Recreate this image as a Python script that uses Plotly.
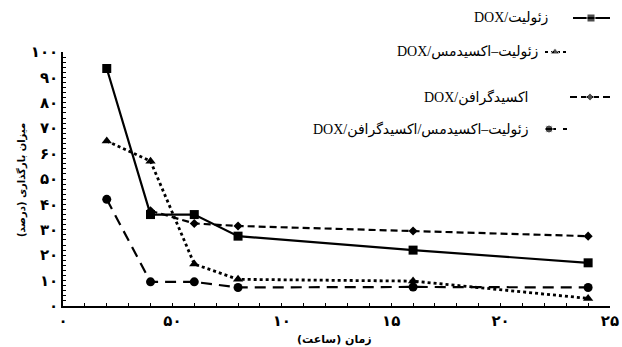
import plotly.graph_objects as go

# Loading (%) over time (h) for four DOX carriers
hours = [2, 4, 6, 8, 16, 24]
zeolite_dox = [93.5, 36, 36, 27.5, 22, 17]
zeolite_cuo_dox = [65, 57, 16.5, 10.5, 9.8, 3]
go_hours = [4, 6, 8, 16, 24]
go_dox = [37.5, 32.5, 31.5, 29.5, 27.5]
zeolite_cuo_go_dox = [42, 9.5, 9.5, 7.3, 7.5, 7.3]

series_names = [
    "DOX/زئولیت",
    "DOX/زئولیت–اکسیدمس",
    "DOX/اکسیدگرافن",
    "DOX/زئولیت–اکسیدمس/اکسیدگرافن",
]

x_ticks = [0, 5, 10, 15, 20, 25]
x_ticktext = ["۰", "۵۰", "۱۰", "۱۵", "۲۰", "۲۵"]
y_ticks = [0, 10, 20, 30, 40, 50, 60, 70, 80, 90, 100]
y_ticktext = ["۰", "۱۰", "۲۰", "۳۰", "۴۰", "۵۰", "۶۰", "۷۰", "۸۰", "۹۰", "۱۰۰"]

W, H = 622, 347
# plot box in pixels (left, right, top, bottom)
PL, PR, PT, PB = 63, 610, 52, 306


def fx(px):
    return px / W


def fy(py):
    return 1 - py / H


styles = [
    dict(dash="solid", symbol="square", size=9, width=2.2),
    dict(dash="dot", symbol="triangle-up", size=9, width=2.8),
    dict(dash="7px,4px", symbol="diamond", size=7, width=2.2),
    dict(dash="11px,7px", symbol="circle", size=9, width=2.2),
]

fig = go.Figure()
data = [
    (hours, zeolite_dox),
    (hours, zeolite_cuo_dox),
    (go_hours, go_dox),
    (hours, zeolite_cuo_go_dox),
]
for (xs, ys), st, name in zip(data, styles, series_names):
    fig.add_trace(go.Scatter(
        x=xs, y=ys, name=name, mode="lines+markers",
        line=dict(color="black", width=st["width"], dash=st["dash"]),
        marker=dict(symbol=st["symbol"], size=st["size"], color="black"),
        cliponaxis=False, showlegend=False,
    ))

# Hand-placed key: text on the left, line sample with marker on the right
key_rows = [
    dict(y=18, text_right=550, x0=573, x1=610, mx=591),
    dict(y=52, text_right=540, x0=545, x1=567, mx=555),
    dict(y=97, text_right=530, x0=570, x1=610, mx=590),
    dict(y=129, text_right=530, x0=545, x1=567, mx=549),
]
key_mx, key_my = [], []
for row, st, name in zip(key_rows, styles, series_names):
    fig.add_annotation(
        x=fx(row["text_right"]), y=fy(row["y"]), xref="paper", yref="paper",
        text=name, showarrow=False, xanchor="right", yanchor="middle",
        font=dict(family="Liberation Serif, DejaVu Sans", size=14, color="black"),
    )
    fig.add_shape(
        type="line", xref="paper", yref="paper", layer="below",
        x0=fx(row["x0"]), x1=fx(row["x1"]), y0=fy(row["y"]), y1=fy(row["y"]),
        line=dict(color="black", width=2, dash=st["dash"]),
    )
    key_mx.append(row["mx"])
    key_my.append(row["y"])

# key markers live on a full-figure pixel axis
fig.add_trace(go.Scatter(
    x=key_mx, y=key_my, mode="markers", xaxis="x2", yaxis="y2",
    marker=dict(symbol=[s["symbol"] for s in styles],
                size=[s["size"] - 1 for s in styles], color="black"),
    cliponaxis=False, showlegend=False, hoverinfo="skip",
))

fig.add_annotation(x=fx(334), y=fy(339), xref="paper", yref="paper",
                   text="زمان (ساعت)", showarrow=False,
                   font=dict(family="DejaVu Sans", size=11, color="black", weight="bold"),
                   xanchor="center", yanchor="middle")
fig.add_annotation(x=fx(21), y=fy(180), xref="paper", yref="paper",
                   text="میزان بارگذاری (درصد)", showarrow=False,
                   font=dict(family="DejaVu Sans", size=10, color="black", weight="bold"),
                   textangle=-90, xanchor="center", yanchor="middle")

tick_font = dict(family="DejaVu Sans", size=15, color="black", weight="bold")
fig.update_layout(
    width=W, height=H,
    margin=dict(l=0, r=0, t=0, b=0),
    paper_bgcolor="white", plot_bgcolor="rgba(0,0,0,0)",
    xaxis=dict(
        domain=[fx(PL), fx(PR)], anchor="y",
        range=[0, 25], tickvals=x_ticks, ticktext=x_ticktext,
        showline=True, linecolor="black", linewidth=1.5,
        ticks="inside", ticklen=3, tickcolor="black",
        minor=dict(dtick=1, ticks="inside", ticklen=3, tickcolor="black"),
        showgrid=False, zeroline=False, tickfont=tick_font, automargin=False,
    ),
    yaxis=dict(
        domain=[fy(PB), fy(PT)], anchor="x",
        range=[0, 100], tickvals=y_ticks, ticktext=y_ticktext,
        showline=True, linecolor="black", linewidth=1.5,
        ticks="inside", ticklen=3, tickcolor="black",
        minor=dict(dtick=2, ticks="inside", ticklen=3, tickcolor="black"),
        showgrid=False, zeroline=False, tickfont=tick_font, automargin=False,
    ),
    xaxis2=dict(domain=[0, 1], range=[0, W], anchor="y2", visible=False),
    yaxis2=dict(domain=[0, 1], range=[H, 0], anchor="x2", visible=False),
)

fig.write_html("out.html")
